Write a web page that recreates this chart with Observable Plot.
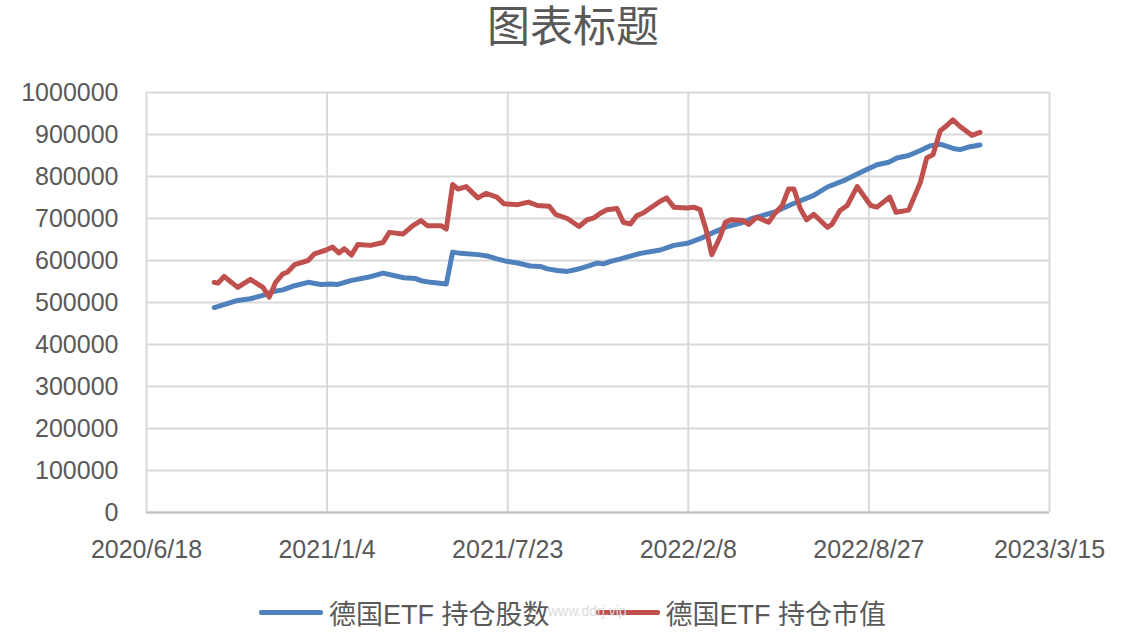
<!DOCTYPE html>
<html><head><meta charset="utf-8">
<script src="https://cdn.jsdelivr.net/npm/d3@7"></script>
<script src="https://cdn.jsdelivr.net/npm/@observablehq/plot@0.6"></script>
<style>
@font-face{font-family:"TitleCJK";src:local("Noto Sans CJK SC"),local("Noto Sans CJK SC Regular"),local("NotoSansCJKsc-Regular");ascent-override:92%;descent-override:14%;line-gap-override:0%;}
body{margin:0;background:#fff;}
#wrap{position:relative;width:1145px;height:632px;overflow:hidden;background:#fff;color:#595959;font-family:"Liberation Sans","Noto Sans CJK SC",sans-serif;}
#title{position:absolute;left:0;top:2px;width:1145px;text-align:center;font-family:"TitleCJK","Noto Sans CJK SC",sans-serif;font-weight:400;font-size:43px;line-height:normal;color:#595959;}
#chart{position:absolute;left:0;top:0;}
#legend{position:absolute;left:0;top:593px;width:1145px;height:38px;display:flex;justify-content:center;align-items:center;font-family:"Liberation Sans","Noto Sans CJK SC",sans-serif;font-size:27px;color:#595959;}
.sw{display:inline-block;width:64px;height:5px;border-radius:2px;margin-right:6px;}
.item{display:flex;align-items:center;}
#wm{position:absolute;left:548px;top:603px;font-size:14px;color:#dcdcdc;font-family:"Liberation Sans",sans-serif;}
</style></head>
<body>
<div id="wrap">
  <div id="title"></div>
  <div id="chart"></div>
  <div id="legend"></div>
  <div id="wm"></div>
</div>
<script>
const titleText = "图表标题";
const seriesNames = ["德国ETF 持仓股数", "德国ETF 持仓市值"];
const seriesColors = ["#4F81BD", "#C0504D"];
const watermark = "www.ddrj.vip";

const xTicks = ["2020-06-18","2021-01-04","2021-07-23","2022-02-08","2022-08-27","2023-03-15"];
const yTicks = [0,100000,200000,300000,400000,500000,600000,700000,800000,900000,1000000];

const sharesDates = ["2020-09-01","2020-09-27","2020-10-11","2020-10-25","2020-11-07","2020-11-16","2020-11-29","2020-12-14","2020-12-28","2021-01-08","2021-01-16","2021-01-30","2021-02-18","2021-03-07","2021-03-30","2021-04-12","2021-04-18","2021-04-29","2021-05-16","2021-05-23","2021-06-01","2021-06-20","2021-07-02","2021-07-11","2021-07-22","2021-08-03","2021-08-17","2021-08-28","2021-09-05","2021-09-16","2021-09-27","2021-10-08","2021-10-19","2021-10-30","2021-11-06","2021-11-14","2021-11-25","2021-12-17","2022-01-08","2022-01-23","2022-02-07","2022-02-21","2022-03-08","2022-03-23","2022-04-07","2022-04-21","2022-05-14","2022-06-04","2022-06-27","2022-07-12","2022-07-30","2022-08-21","2022-09-05","2022-09-18","2022-09-27","2022-10-10","2022-10-23","2022-11-03","2022-11-14","2022-11-30","2022-12-06","2022-12-17","2022-12-28"];
const sharesValues = [488000,505000,509000,517000,527000,530000,540000,548000,543000,544000,543000,552000,560000,570000,559000,557000,552000,548000,544000,620000,617000,614000,610000,604000,598000,594000,587000,586000,580000,576000,574000,579000,586000,594000,592000,598000,604000,617000,625000,636000,641000,652000,667000,681000,689000,701000,715000,735000,755000,775000,790000,813000,828000,834000,844000,850000,862000,873000,877000,866000,864000,871000,875000];

const valueDates = ["2020-09-01","2020-09-05","2020-09-12","2020-09-27","2020-10-11","2020-10-25","2020-11-01","2020-11-08","2020-11-16","2020-11-21","2020-11-29","2020-12-14","2020-12-21","2021-01-03","2021-01-10","2021-01-17","2021-01-23","2021-01-31","2021-02-07","2021-02-21","2021-03-07","2021-03-14","2021-03-29","2021-04-09","2021-04-18","2021-04-25","2021-05-10","2021-05-16","2021-05-23","2021-05-29","2021-06-07","2021-06-20","2021-06-29","2021-07-11","2021-07-19","2021-08-03","2021-08-15","2021-08-25","2021-09-07","2021-09-14","2021-09-27","2021-10-10","2021-10-19","2021-10-26","2021-11-03","2021-11-10","2021-11-21","2021-11-28","2021-12-06","2021-12-13","2021-12-20","2021-12-28","2022-01-08","2022-01-15","2022-01-23","2022-02-07","2022-02-14","2022-02-21","2022-02-28","2022-03-06","2022-03-15","2022-03-21","2022-03-27","2022-04-10","2022-04-16","2022-04-25","2022-05-08","2022-05-14","2022-05-23","2022-05-30","2022-06-05","2022-06-12","2022-06-19","2022-06-27","2022-07-12","2022-07-17","2022-07-26","2022-08-03","2022-08-14","2022-08-29","2022-09-05","2022-09-19","2022-09-26","2022-10-10","2022-10-23","2022-10-30","2022-11-06","2022-11-14","2022-11-19","2022-11-28","2022-12-06","2022-12-19","2022-12-28"];
const valueValues = [548000,546000,562000,536000,555000,536000,513000,548000,568000,572000,590000,600000,616000,625000,632000,618000,628000,613000,638000,636000,643000,667000,663000,683000,695000,683000,683000,675000,781000,770000,776000,749000,760000,751000,735000,733000,739000,731000,729000,710000,700000,681000,697000,701000,713000,721000,724000,691000,687000,707000,713000,725000,741000,749000,727000,725000,727000,721000,671000,614000,655000,691000,697000,695000,686000,703000,691000,710000,731000,770000,770000,723000,697000,710000,679000,686000,719000,731000,776000,731000,727000,751000,715000,720000,786000,844000,852000,909000,917000,935000,919000,898000,905000];

const parse = d3.utcParse("%Y-%m-%d");
const data = [
  ...sharesDates.map((d,i)=>({date:parse(d), value:sharesValues[i], series:seriesNames[0]})),
  ...valueDates.map((d,i)=>({date:parse(d), value:valueValues[i], series:seriesNames[1]}))
];
const xTickDates = xTicks.map(parse);
const fmtX = d => `${d.getUTCFullYear()}/${d.getUTCMonth()+1}/${d.getUTCDate()}`;

document.getElementById("title").textContent = titleText;

const chart = Plot.plot({
  width: 1145,
  height: 580,
  marginTop: 92,
  marginBottom: 68,
  marginLeft: 146,
  marginRight: 96,
  style: {fontFamily: '"Liberation Sans", sans-serif', fontSize: "25px", color: "#595959", background: "transparent"},
  x: {type: "utc", domain: [xTickDates[0], xTickDates[xTickDates.length-1]]},
  y: {domain: [0, 1000000]},
  color: {domain: seriesNames, range: seriesColors},
  marks: [
    Plot.gridY(yTicks, {stroke: "#d9d9d9", strokeOpacity: 1, strokeWidth: 2}),
    Plot.gridX(xTickDates, {stroke: "#d9d9d9", strokeOpacity: 1, strokeWidth: 2}),
    Plot.ruleY([0], {stroke: "#bfbfbf", strokeWidth: 2}),
    Plot.axisY(yTicks, {tickSize: 0, tickPadding: 28, tickFormat: d => String(d), label: null, fill: "#595959", fontSize: 25}),
    Plot.axisX(xTickDates, {tickSize: 0, tickPadding: 28, tickFormat: fmtX, label: null, fill: "#595959", fontSize: 25}),
    Plot.line(data, {x: "date", y: "value", z: "series", stroke: "series", strokeWidth: 5, strokeLinejoin: "round", strokeLinecap: "round"})
  ]
});
document.getElementById("chart").appendChild(chart);

const legend = document.getElementById("legend");
seriesNames.forEach((name, i) => {
  const item = document.createElement("div");
  item.className = "item";
  if (i > 0) item.style.marginLeft = "46px";
  const sw = document.createElement("span");
  sw.className = "sw";
  sw.style.background = seriesColors[i];
  const t = document.createElement("span");
  t.textContent = name;
  item.appendChild(sw); item.appendChild(t);
  legend.appendChild(item);
});
document.getElementById("wm").textContent = watermark;
</script>
</body></html>
